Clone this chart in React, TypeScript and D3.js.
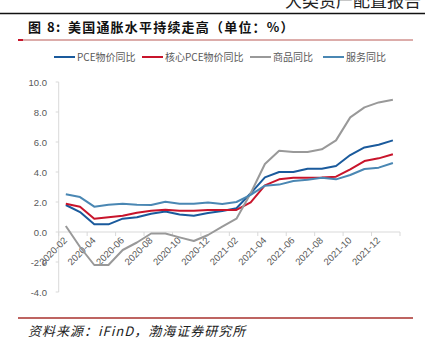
import React from 'react';
import * as d3 from 'd3';

const months = [
  '2020-02', '2020-03', '2020-04', '2020-05', '2020-06', '2020-07', '2020-08', '2020-09',
  '2020-10', '2020-11', '2020-12', '2021-01', '2021-02', '2021-03', '2021-04', '2021-05',
  '2021-06', '2021-07', '2021-08', '2021-09', '2021-10', '2021-11', '2021-12', '2022-01',
];

const pce = [1.8, 1.33, 0.51, 0.51, 0.89, 0.98, 1.22, 1.36, 1.16, 1.09, 1.26, 1.4, 1.58, 2.58, 3.64, 4.0, 4.0, 4.22, 4.22, 4.4, 5.13, 5.64, 5.82, 6.11];
const corePce = [1.89, 1.69, 0.89, 0.98, 1.09, 1.29, 1.42, 1.49, 1.42, 1.42, 1.47, 1.47, 1.47, 1.98, 3.11, 3.51, 3.62, 3.62, 3.64, 3.69, 4.18, 4.73, 4.91, 5.18];
const goods = [0.4, -1.0, -2.2, -2.2, -1.2, -0.7, -0.1, -0.1, -0.36, -0.6, -0.2, 0.36, 0.89, 2.58, 4.53, 5.42, 5.33, 5.33, 5.51, 6.11, 7.64, 8.31, 8.64, 8.82];
const services = [2.51, 2.33, 1.69, 1.82, 1.89, 1.82, 1.8, 2.02, 1.89, 1.89, 1.96, 1.87, 2.0, 2.47, 3.09, 3.16, 3.4, 3.49, 3.62, 3.51, 3.8, 4.2, 4.29, 4.6];

const yTicks = [10, 8, 6, 4, 2, 0, -2, -4];

const series = [
  { name: 'PCE物价同比', values: pce, color: '#1a5a9c' },
  { name: '核心PCE物价同比', values: corePce, color: '#c8142b' },
  { name: '商品同比', values: goods, color: '#999999' },
  { name: '服务同比', values: services, color: '#4a87b3' },
];

const legendX = [54, 142, 250, 323];

const plot = { left: 58.7, right: 400, top: 82, bottom: 292 };

export default function App() {
  const x = d3.scaleBand<string>().domain(months).range([plot.left, plot.right]);
  const y = d3.scaleLinear().domain([-4, 10]).range([plot.bottom, plot.top]);
  const y0 = y(0);
  const cx = (i: number) => (x(months[i]) ?? 0) + x.bandwidth() / 2;
  const line = d3
    .line<number>()
    .x((_, i) => cx(i))
    .y((d) => y(d));

  const tickIdx = d3.range(0, months.length + 1, 2);
  const labelIdx = d3.range(0, months.length, 2);
  const font = '"Liberation Sans", Arial, sans-serif';
  const cjk = '"Noto Sans CJK SC", sans-serif';

  return (
    <svg width={425} height={354} style={{ position: 'absolute', left: 0, top: 0 }}>
      <rect width={425} height={354} fill="#fff" />
      {/* page header, cut at the top edge as in the page */}
      <text x={421} y={7} textAnchor="end" fontFamily={cjk} fontSize={17} fill="#222">
        大类资产配置报告
      </text>
      <line x1={0} x2={425} y1={13.5} y2={13.5} stroke="#111" strokeWidth={1.5} />
      <text x={28} y={32} fontFamily={cjk} fontSize={13} fontWeight="bold" fill="#111" letterSpacing={1.5}>
        图 8:
      </text>
      <text x={68} y={32} fontFamily={cjk} fontSize={13} fontWeight="bold" fill="#111" letterSpacing={1.2}>
        美国通胀水平持续走高（单位：%）
      </text>
      <line x1={18} x2={413} y1={40} y2={40} stroke="#a8302c" strokeWidth={0.8} />
      <line x1={18} x2={23} y1={40} y2={40} stroke="#c8142b" strokeWidth={2} />

      {/* legend */}
      {series.map((s, i) => (
        <g key={s.name}>
          <line x1={legendX[i]} x2={legendX[i] + 21} y1={57} y2={57} stroke={s.color} strokeWidth={2} />
          <text x={legendX[i] + 23} y={60.5} fontFamily={cjk} fontSize={10} fill="#595959">
            {s.name}
          </text>
        </g>
      ))}

      {/* axes */}
      <line x1={plot.left} x2={plot.left} y1={plot.top} y2={plot.bottom} stroke="#d9d9d9" />
      {yTicks.map((t) => (
        <g key={t}>
          <line x1={plot.left - 3} x2={plot.left} y1={y(t)} y2={y(t)} stroke="#d9d9d9" />
          <text x={47} y={y(t) + 3.5} textAnchor="end" fontFamily={font} fontSize={9.5} fill="#595959">
            {t.toFixed(1)}
          </text>
        </g>
      ))}
      <line x1={plot.left} x2={plot.right} y1={y0} y2={y0} stroke="#d9d9d9" />
      {tickIdx.map((k) => {
        const tx = plot.left + k * x.step();
        return <line key={k} x1={tx} x2={tx} y1={y0} y2={y0 + 4} stroke="#d9d9d9" />;
      })}
      {labelIdx.map((k) => (
        <text
          key={k}
          transform={`translate(${cx(k) + 2},${y0 + 9}) rotate(-45)`}
          textAnchor="end"
          fontFamily={font}
          fontSize={9.5}
          fill="#595959"
        >
          {months[k]}
        </text>
      ))}

      {/* lines */}
      {series.map((s) => (
        <path key={s.name} d={line(s.values) ?? ''} fill="none" stroke={s.color} strokeWidth={2} strokeLinejoin="round" />
      ))}

      {/* footer */}
      <line x1={18} x2={413} y1={318} y2={318} stroke="#a8302c" strokeWidth={1.5} />
      <text x={28} y={336} fontFamily={cjk} fontSize={13} fontStyle="italic" fill="#222" letterSpacing={1}>
        资料来源：iFinD，渤海证券研究所
      </text>
    </svg>
  );
}
